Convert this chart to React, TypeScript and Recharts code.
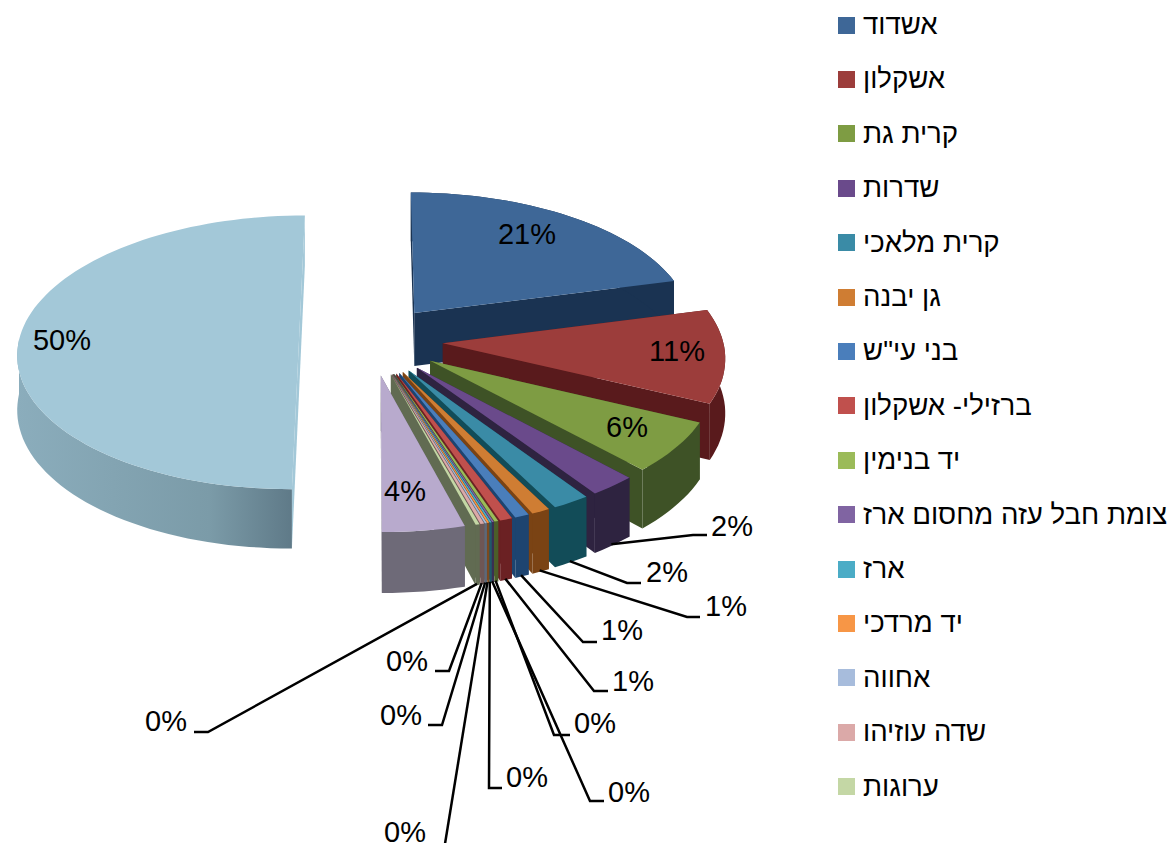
import { PieChart, Pie, Legend } from 'recharts'

const cities = [
  'אשדוד', 'אשקלון', 'קרית גת', 'שדרות', 'קרית מלאכי', 'גן יבנה', 'בני עי"ש', 'ברזילי- אשקלון',
  'יד בנימין', 'צומת חבל עזה מחסום ארז', 'ארז', 'יד מרדכי', 'אחווה', 'שדה עוזיהו', 'ערוגות',
  'אחר א', 'אחר ב',
]
const shares = [21.0, 11.0, 6.0, 2.45, 1.95, 0.95, 0.75, 0.65, 0.2, 0.1, 0.1, 0.1, 0.1, 0.2, 0.2, 4.25, 50.0]
const topColors = [
  '#3e6797', '#9c3d3b', '#7e9c43', '#6a4a8b', '#3a8ba6', '#cf7d33', '#4a7ebb', '#c0504d',
  '#9bbb59', '#8064a2', '#4bacc6', '#f79646', '#a7bcdc', '#dba9a8', '#c4d7a5', '#b8aacd', '#a3c8d8',
]
const wallColors = [
  '#1a3352', '#591a1c', '#3e5226', '#2e2340', '#124c58', '#7a4314', '#1d4470', '#6b2123',
  '#4c5e29', '#3b2f52', '#1f5a6a', '#7c4a20', '#5d6878', '#6e5655', '#616b52', '#6e6a78', '#a3c8d8',
]
// hand placed label centres, same order as the slices
const labelX = [527, 677, 627, 732, 667, 726, 622, 633, 595, 629, 527, 405, 401, 407, 166, 405, 62]
const labelY = [234, 351, 427, 526, 572, 606, 630, 681, 723, 792, 777, 832, 715, 661, 721, 491, 340]
// leader knee and end for the labels outside the pie, null for those on the slice
const leaders: (number[] | null)[] = [
  null, null, null,
  [693, 535, 707], [627, 583, 641], [687, 617, 700], [583, 642, 597], [594, 691, 608],
  [554, 735, 570], [590, 801, 604], [489, 788, 502], [444, 850, 444], [442, 725, 428], [449, 671, 435], [208, 732, 194],
  null, null,
]

const tableData = cities.map((name, i) => ({ name, value: shares[i], fill: topColors[i], wall: wallColors[i] }))

const W = 1173
const H = 843
const CX = 371
const CY = 340
const RADIUS = 280
const TILT = 0.485
const PERSPECTIVE = 0.09
const EXPLODE = 72
const DEPTH = 54
const LEGEND_ROWS = 15
const BIG_SLICE = 16
const RAD = Math.PI / 180
const FONT = '"Liberation Sans", Arial, sans-serif'

// ground plane to screen
function project(u: number, v: number, drop = 0) {
  const s = 1 / (1 - (PERSPECTIVE * v) / RADIUS)
  return [CX + s * u, CY + s * (TILT * v + drop)]
}

function slicePoint(mid: number, angle: number, r: number, drop = 0) {
  const u = EXPLODE * Math.cos(mid * RAD) + r * Math.cos(angle * RAD)
  const v = -EXPLODE * Math.sin(mid * RAD) - r * Math.sin(angle * RAD)
  return project(u, v, drop)
}

const toPath = (pts: number[][]) =>
  pts.map((p, i) => `${i ? 'L' : 'M'}${p[0].toFixed(1)} ${p[1].toFixed(1)}`).join(' ') + ' Z'

function Slice3D(props: any) {
  const { startAngle, endAngle, fill, wall, index } = props
  const mid = (startAngle + endAngle) / 2
  const steps = Math.max(2, Math.ceil(Math.abs(startAngle - endAngle) / 2))
  const arc: number[][] = []
  const arcLow: number[][] = []
  for (let i = 0; i <= steps; i++) {
    const a = startAngle + ((endAngle - startAngle) * i) / steps
    arc.push(slicePoint(mid, a, RADIUS))
    arcLow.push(slicePoint(mid, a, RADIUS, DEPTH))
  }
  const apex = slicePoint(mid, 0, 0)
  const apexLow = slicePoint(mid, 0, 0, DEPTH)
  const big = index === BIG_SLICE
  // the big slice only shows the near half of its rim
  const rimCount = big ? Math.floor(steps / 2) + 1 : steps + 1
  const rim = [...arc.slice(0, rimCount), ...arcLow.slice(0, rimCount).reverse()]
  return (
    <g>
      <path d={toPath([apex, arc[0], arcLow[0], apexLow])} fill={wall} />
      <path d={toPath([apex, arc[steps], arcLow[steps], apexLow])} fill={wall} />
      <path d={toPath(rim)} fill={big ? 'url(#rim-big)' : wall} />
      <path d={toPath([apex, ...arc])} fill={fill} />
    </g>
  )
}

function SliceLabel(props: any) {
  const { index, percent, midAngle } = props
  const leader = leaders[index]
  const start = slicePoint(midAngle, midAngle, RADIUS - 2, DEPTH)
  return (
    <g>
      {leader && (
        <polyline
          points={`${start[0]},${start[1]} ${leader[0]},${leader[1]} ${leader[2]},${leader[1]}`}
          fill="none"
          stroke="#000"
          strokeWidth={2.5}
        />
      )}
      <text
        x={labelX[index]}
        y={labelY[index]}
        textAnchor="middle"
        dominantBaseline="central"
        fontFamily={FONT}
        fontSize={29}
        fill="#000"
      >
        {Math.round(percent * 100)}%
      </text>
    </g>
  )
}

function LegendList() {
  return (
    <div style={{ position: 'relative', width: W, height: H }}>
      {tableData.slice(0, LEGEND_ROWS).map((row, i) => (
        <div
          key={row.name}
          style={{
            position: 'absolute',
            left: 838,
            top: 25 + 54.4 * i - 20,
            height: 40,
            display: 'flex',
            alignItems: 'center',
            whiteSpace: 'nowrap',
            fontFamily: FONT,
            fontSize: 27.6,
            color: '#000',
          }}
        >
          <span style={{ width: 17, height: 17, background: row.fill, marginRight: 8, flex: 'none' }} />
          <span>{row.name}</span>
        </div>
      ))}
    </div>
  )
}

export default function App() {
  return (
    <div style={{ position: 'absolute', left: 0, top: 0, width: W, height: H, background: '#fff', overflow: 'hidden' }}>
      <PieChart width={W} height={H} margin={{ top: 0, right: 0, bottom: 0, left: 0 }}>
        <defs>
          <linearGradient id="rim-big" x1="0" y1="0" x2="1" y2="0">
            <stop offset="0%" stopColor="#8badbc" />
            <stop offset="70%" stopColor="#7b9ba8" />
            <stop offset="100%" stopColor="#5f7a88" />
          </linearGradient>
        </defs>
        <Legend content={<LegendList />} wrapperStyle={{ position: 'absolute', left: 0, top: 0, width: W, height: H }} />
        <Pie
          data={tableData}
          dataKey="value"
          nameKey="name"
          cx={CX}
          cy={CY}
          outerRadius={RADIUS}
          startAngle={90}
          endAngle={-270}
          stroke="none"
          shape={Slice3D}
          label={SliceLabel}
          labelLine={false}
          isAnimationActive={false}
        />
      </PieChart>
    </div>
  )
}
